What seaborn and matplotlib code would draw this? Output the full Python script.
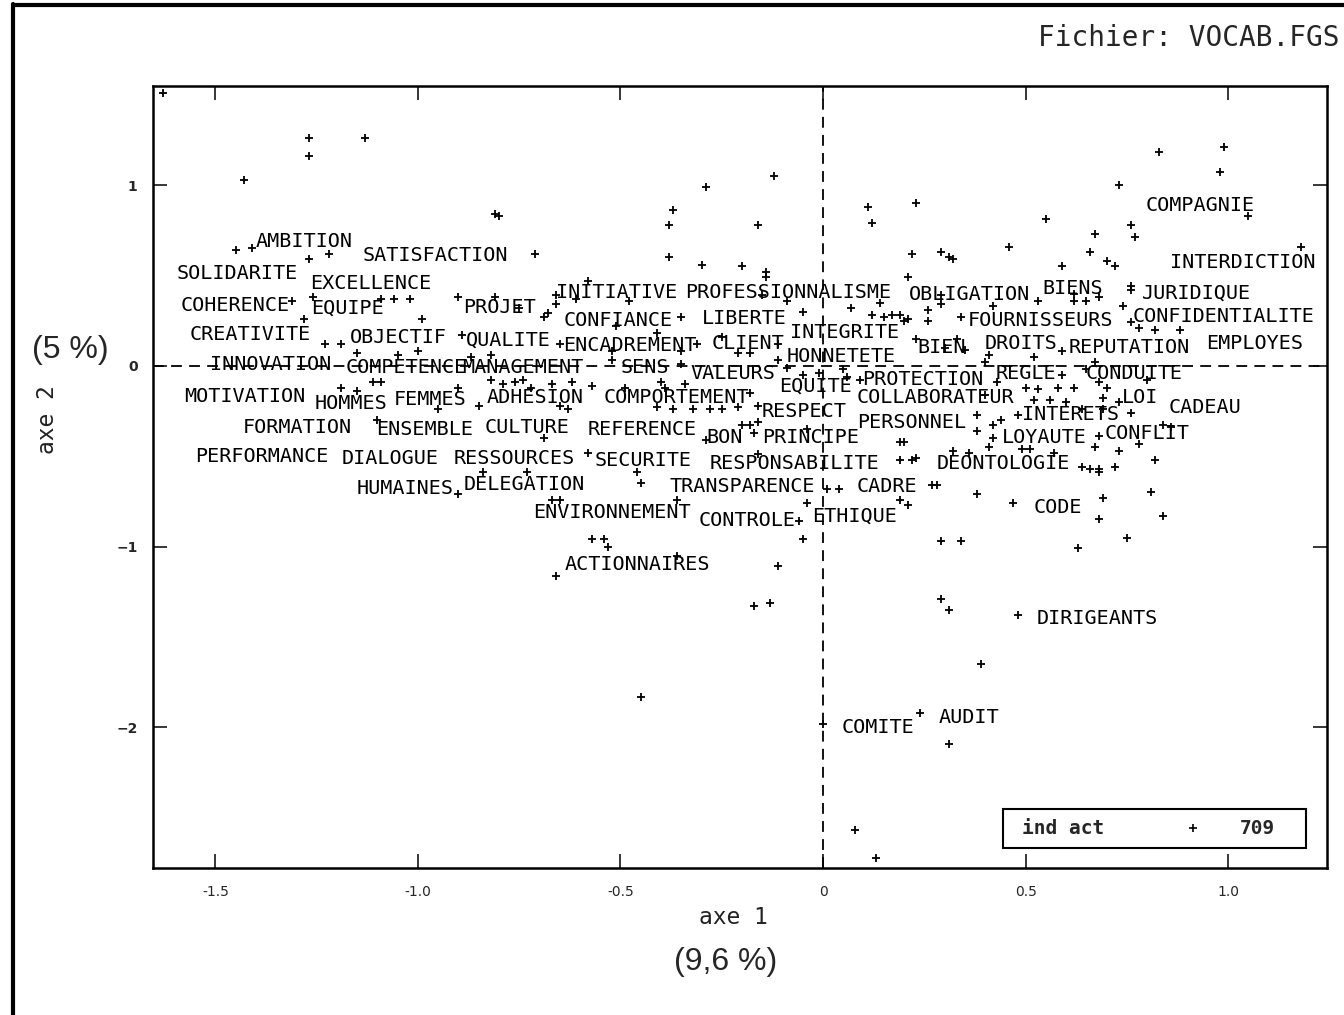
import numpy as np
import pandas as pd
import matplotlib
matplotlib.use('Agg')
import matplotlib.pyplot as plt
from matplotlib.lines import Line2D
from matplotlib.patches import Rectangle
import seaborn as sns

sns.set_style('ticks')
plt.rcParams['font.family'] = ['DejaVu Sans']
plt.rcParams['axes.unicode_minus'] = True

# labelled words (text position = left edge / vertical centre, in axis units)
words = ['AMBITION', 'SATISFACTION', 'SOLIDARITE', 'EXCELLENCE', 'COHERENCE', 'EQUIPE',
         'PROJET', 'CREATIVITE', 'OBJECTIF', 'QUALITE', 'INNOVATION', 'COMPETENCE',
         'MANAGEMENT', 'SENS', 'VALEURS', 'MOTIVATION', 'HOMMES', 'FEMMES', 'ADHESION',
         'COMPORTEMENT', 'FORMATION', 'ENSEMBLE', 'CULTURE', 'REFERENCE', 'BON',
         'PRINCIPE', 'PERFORMANCE', 'DIALOGUE', 'RESSOURCES', 'SECURITE',
         'RESPONSABILITE', 'HUMAINES', 'DELEGATION', 'TRANSPARENCE', 'CADRE',
         'ENVIRONNEMENT', 'CONTROLE', 'ETHIQUE', 'ACTIONNAIRES', 'INITIATIVE',
         'PROFESSIONNALISME', 'OBLIGATION', 'BIENS', 'JURIDIQUE', 'CONFIANCE', 'LIBERTE',
         'INTEGRITE', 'FOURNISSEURS', 'CONFIDENTIALITE', 'ENCADREMENT', 'CLIENT',
         'HONNETETE', 'BIEN', 'DROITS', 'REPUTATION', 'EMPLOYES', 'EQUITE', 'PROTECTION',
         'REGLE', 'CONDUITE', 'COLLABORATEUR', 'LOI', 'CADEAU', 'RESPECT', 'PERSONNEL',
         'INTERETS', 'LOYAUTE', 'CONFLIT', 'DEONTOLOGIE', 'CODE', 'DIRIGEANTS', 'COMITE',
         'AUDIT', 'COMPAGNIE', 'INTERDICTION']
word_x = [-1.400, -1.136, -1.595, -1.267, -1.585, -1.264, -0.889, -1.563, -1.168, -0.881,
          -1.514, -1.178, -0.891, -0.499, -0.328, -1.578, -1.254, -1.059, -0.830, -0.541,
          -1.432, -1.104, -0.835, -0.580, -0.289, -0.151, -1.551, -1.188, -0.911, -0.563,
          -0.279, -1.151, -0.886, -0.380, 0.084, -0.716, -0.306, -0.027, -0.637, -0.659,
          -0.341, 0.212, 0.541, 0.788, -0.640, -0.299, -0.081, 0.356, 0.765, -0.642,
          -0.274, -0.089, 0.232, 0.400, 0.605, 0.946, -0.109, 0.096, 0.425, 0.649,
          0.084, 0.738, 0.854, -0.151, 0.084, 0.491, 0.442, 0.694, 0.281, 0.519,
          0.528, 0.047, 0.286, 0.795, 0.857]
word_y = [0.690, 0.613, 0.513, 0.458, 0.336, 0.320, 0.320, 0.176, 0.159, 0.143,
          0.010, -0.007, -0.012, -0.012, -0.040, -0.167, -0.211, -0.189, -0.178, -0.178,
          -0.342, -0.353, -0.342, -0.353, -0.397, -0.397, -0.499, -0.510, -0.510, -0.521,
          -0.538, -0.676, -0.654, -0.665, -0.665, -0.809, -0.853, -0.831, -1.098, 0.408,
          0.408, 0.392, 0.430, 0.403, 0.253, 0.264, 0.187, 0.253, 0.275, 0.110,
          0.126, 0.054, 0.099, 0.126, 0.099, 0.126, -0.111, -0.073, -0.040, -0.040,
          -0.178, -0.178, -0.228, -0.255, -0.316, -0.272, -0.394, -0.377, -0.538, -0.781,
          -1.395, -2.003, -1.944, 0.889, 0.569]

# points (axe 1, axe 2)
pt_x = [-1.63, -1.27, -1.13, -1.27, -1.43, -0.81, -0.80, -1.45, -1.41, -1.27, -1.22, -0.71,
        -1.31, -1.26, -1.28, -1.09, -1.06, -1.02, -0.99, -0.90, -0.81, -0.75, -0.68, -0.66,
        -0.12, -0.29, -0.37, -0.38, -0.16, -0.38, -0.30, -0.20, -0.14, -0.14, 0.11, 0.12,
        0.23, 0.22, 0.29, 0.31, 0.21, -0.58, -0.66, -0.61, -0.69, -0.48, -0.51, -0.35,
        -0.15, -0.09, -0.05, 0.07, 0.14, 0.12, 0.15, 0.17, 0.19, 0.20, 0.21, 0.26,
        0.26, 0.29, 0.23,
        0.83, 0.99, 0.98, 0.73, 1.05, 0.55, 0.76, 0.77, 0.67, 0.46, 1.18, 0.32,
        0.66, 0.70, 0.72, 0.59, 0.76, 0.76, 0.53, 0.62, 0.62, 0.65, 0.68, 0.29,
        0.34, 0.42, 0.74, 0.78, 0.82, 0.88, 0.76,
        -1.23, -1.19, -1.15, -1.05, -1.00, -0.89, -0.87, -0.82, -1.19, -1.15, -1.11, -1.09,
        -0.95, -0.90, -0.85, -0.82, -0.79, -0.76, -0.74, -0.72, -0.69, -1.10, -0.90, -0.84,
        -0.73, -0.67,
        -0.41, -0.65, -0.52, -0.35, -0.31, -0.25, -0.21, -0.18, -0.11, -0.52, -0.35, -0.11,
        -0.09, -0.05, -0.01, 0.05, 0.06, 0.09, -0.57, -0.62, -0.67, -0.49, -0.40, -0.34,
        -0.39, -0.65, -0.63, -0.41, -0.37, -0.32, -0.28, -0.25, -0.21, -0.18, -0.16, -0.20,
        -0.18, -0.16, -0.04, -0.17, -0.29, 0.19, 0.20, -0.16, -0.58, 0.19, 0.22, 0.23,
        -0.46, -0.45, 0.01, 0.04, 0.28, -0.04, 0.19, 0.21, -0.65, -0.36, -0.05, 0.29,
        -0.57, -0.54, -0.53, -0.06,
        0.33, 0.30, 0.35, 0.41, 0.52, 0.59, 0.40, 0.67, 0.43, 0.59, 0.65, 0.68,
        0.80, 0.50, 0.53, 0.58, 0.62, 0.70, 0.52, 0.56, 0.60, 0.69, 0.73, 0.40,
        0.38, 0.48, 0.64, 0.69, 0.76, 0.42, 0.44, 0.38, 0.68, 0.84, 0.86, 0.42,
        0.41, 0.49, 0.51, 0.67, 0.73, 0.78, 0.32, 0.36, 0.57, 0.64, 0.66, 0.68,
        0.68, 0.72, 0.82, 0.27, 0.38, 0.47, 0.69, 0.68, 0.81, 0.84, 0.75, 0.34,
        0.63,
        -0.66, -0.36, -0.11, -0.17, -0.13, -0.45, 0.00, 0.08, 0.13, 0.29, 0.31, 0.48,
        0.39, 0.24, 0.31]
pt_y = [1.51, 1.26, 1.26, 1.16, 1.03, 0.84, 0.83, 0.64, 0.65, 0.59, 0.62, 0.62,
        0.36, 0.38, 0.26, 0.37, 0.37, 0.37, 0.26, 0.38, 0.38, 0.32, 0.29, 0.34,
        1.05, 0.99, 0.86, 0.78, 0.78, 0.60, 0.56, 0.55, 0.52, 0.49, 0.88, 0.79,
        0.90, 0.62, 0.63, 0.60, 0.49, 0.47, 0.39, 0.37, 0.27, 0.36, 0.22, 0.27,
        0.39, 0.36, 0.30, 0.32, 0.35, 0.28, 0.27, 0.28, 0.28, 0.25, 0.26, 0.31,
        0.25, 0.39, 0.15,
        1.18, 1.21, 1.07, 1.00, 0.83, 0.81, 0.78, 0.71, 0.73, 0.66, 0.66, 0.59,
        0.63, 0.58, 0.55, 0.55, 0.44, 0.42, 0.36, 0.40, 0.36, 0.36, 0.38, 0.34,
        0.27, 0.33, 0.33, 0.21, 0.20, 0.20, 0.24,
        0.12, 0.12, 0.07, 0.06, 0.08, 0.17, 0.05, 0.06, -0.12, -0.14, -0.09, -0.09,
        -0.24, -0.12, -0.22, -0.08, -0.10, -0.09, -0.08, -0.12, -0.40, -0.30, -0.71, -0.59,
        -0.59, -0.74,
        0.18, 0.12, 0.08, 0.08, 0.12, 0.16, 0.07, 0.07, 0.12, 0.03, 0.01, 0.03,
        -0.01, -0.05, -0.04, -0.02, -0.06, -0.08, -0.11, -0.09, -0.10, -0.12, -0.09, -0.10,
        -0.12, -0.22, -0.24, -0.23, -0.24, -0.24, -0.24, -0.24, -0.23, -0.15, -0.22, -0.33,
        -0.33, -0.31, -0.35, -0.37, -0.41, -0.42, -0.42, -0.49, -0.48, -0.52, -0.52, -0.51,
        -0.59, -0.65, -0.68, -0.68, -0.66, -0.76, -0.74, -0.77, -0.74, -0.74, -0.96, -0.97,
        -0.96, -0.96, -1.00, -0.86,
        0.15, 0.10, 0.09, 0.06, 0.05, 0.08, 0.02, 0.02, -0.09, -0.05, -0.02, -0.09,
        -0.08, -0.12, -0.13, -0.12, -0.12, -0.12, -0.19, -0.19, -0.20, -0.18, -0.20, -0.16,
        -0.27, -0.27, -0.24, -0.24, -0.26, -0.33, -0.30, -0.36, -0.39, -0.33, -0.34, -0.40,
        -0.45, -0.46, -0.46, -0.45, -0.47, -0.43, -0.47, -0.48, -0.48, -0.56, -0.57, -0.57,
        -0.59, -0.56, -0.52, -0.66, -0.71, -0.76, -0.73, -0.85, -0.70, -0.83, -0.95, -0.97,
        -1.01,
        -1.16, -1.05, -1.11, -1.33, -1.31, -1.83, -1.98, -2.57, -2.72, -1.29, -1.35, -1.38,
        -1.65, -1.92, -2.09]

xticks = [-1.5, -1.0, -0.5, 0, 0.5, 1.0]
xtick_labels = ['-1.5', '-1.0', '-0.5', '0', '0.5', '1.0']
yticks = [1, 0, -1, -2]
ytick_labels = ['1', '0', '\u22121', '\u22122']

points = pd.DataFrame({'axe1': pt_x, 'axe2': pt_y})

fig = plt.figure(figsize=(13.44, 10.15), dpi=100)
ax = fig.add_axes([0.1138, 0.1448, 0.8736, 0.7705])

sns.scatterplot(data=points, x='axe1', y='axe2', marker='+', color='black',
                s=40, linewidth=1.3, ax=ax, legend=False, zorder=3)

ax.axhline(0, color='black', lw=1.3, ls=(0, (6, 4)), zorder=1)
ax.axvline(0, color='black', lw=1.3, ls=(0, (6, 4)), zorder=1)

for w, x, y in zip(words, word_x, word_y):
    ax.text(x, y, w, ha='left', va='center', fontsize=14.5,
            family='DejaVu Sans Mono', color='black', zorder=4)

ax.set_xlim(-1.654, 1.244)
ax.set_ylim(-2.778, 1.548)
ax.set_xticks(xticks)
ax.set_xticklabels(xtick_labels, fontsize=10)
ax.set_yticks(yticks)
ax.set_yticklabels(ytick_labels, fontsize=10, weight='bold')
ax.tick_params(direction='in', length=10, width=1.3, top=True, right=True)
ax.tick_params(axis='x', pad=12)
ax.tick_params(axis='y', pad=11)
ax.set_xlabel('')
ax.set_ylabel('')
for sp in ax.spines.values():
    sp.set_linewidth(1.8)
    sp.set_color('black')

# legend box
ax.add_patch(Rectangle((0.724, 0.0256), 0.258, 0.0498, transform=ax.transAxes,
                       fill=False, lw=1.5, ec='black', zorder=5))
ax.text(0.740, 0.051, 'ind act', transform=ax.transAxes, ha='left', va='center',
        fontsize=14, family='DejaVu Sans Mono', weight='bold', zorder=6)
ax.plot([0.886], [0.051], marker='+', color='black', ms=6, mew=1.2,
        transform=ax.transAxes, zorder=6)
ax.text(0.926, 0.051, '709', transform=ax.transAxes, ha='left', va='center',
        fontsize=14, family='DejaVu Sans Mono', weight='bold', zorder=6)

# titles and axis captions
fig.text(1340 / 1344, 1 - 38 / 1015, 'Fichier: VOCAB.FGS', ha='right', va='center',
         fontsize=20, family='DejaVu Sans Mono')
fig.text(733 / 1344, 1 - 918 / 1015, 'axe 1', ha='center', va='center',
         fontsize=16.5, family='DejaVu Sans Mono', color='#222222')
fig.text(726 / 1344, 1 - 962 / 1015, '(9,6 %)', ha='center', va='center',
         fontsize=23, family='Liberation Sans')
fig.text(47 / 1344, 1 - 420 / 1015, 'axe 2', ha='center', va='center', rotation=90,
         fontsize=16.5, family='DejaVu Sans Mono', color='#222222')
fig.text(70 / 1344, 1 - 350 / 1015, '(5 %)', ha='center', va='center',
         fontsize=23, family='Liberation Sans')

# screenshot frame on left and top
fig.add_artist(Line2D([13 / 1344, 13 / 1344], [0, 1 - 4 / 1015], color='black', lw=3))
fig.add_artist(Line2D([13 / 1344, 1], [1 - 5 / 1015, 1 - 5 / 1015], color='black', lw=3))

fig.savefig('out.png', dpi=100)
